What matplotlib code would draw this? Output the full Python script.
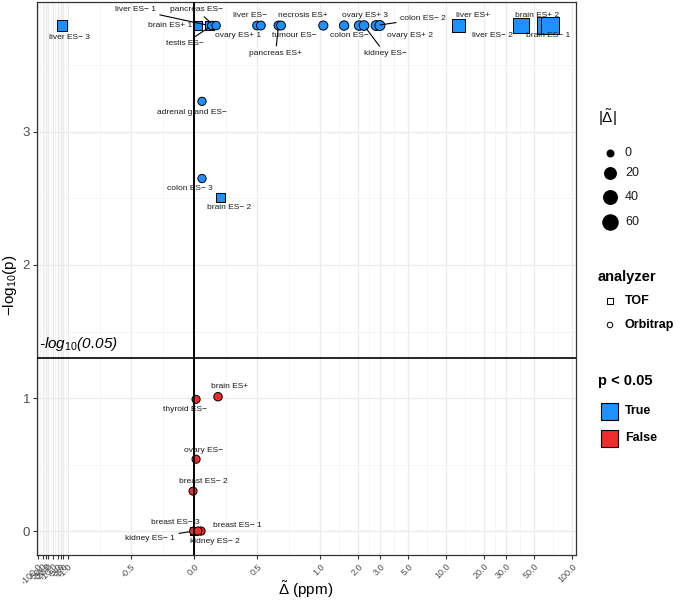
import numpy as np
import matplotlib
matplotlib.use("Agg")
import matplotlib.pyplot as plt

plt.rcParams['font.family'] = ['Liberation Sans', 'DejaVu Sans']
plt.rcParams['mathtext.fontset'] = 'custom'
plt.rcParams['mathtext.rm'] = 'Liberation Sans'
plt.rcParams['mathtext.it'] = 'Liberation Sans:italic'
plt.rcParams['mathtext.bf'] = 'Liberation Sans:bold'

# data
labels = ['liver ES\u2212 3', 'brain ES+ 1', 'liver ES\u2212 1', 'pancreas ES\u2212', 'testis ES\u2212',
          'ovary ES+ 1', 'liver ES\u2212', '', 'pancreas ES+', 'tumour ES\u2212', 'necrosis ES+',
          'colon ES\u2212', 'ovary ES+ 3', 'kidney ES\u2212', 'colon ES\u2212 2', 'ovary ES+ 2',
          'liver ES+', 'liver ES\u2212 2', 'brain ES\u2212 1', 'brain ES+ 2',
          'adrenal gland ES\u2212', 'colon ES\u2212 3', 'brain ES\u2212 2',
          'brain ES+', 'thyroid ES\u2212', 'ovary ES\u2212', 'breast ES\u2212 2', 'breast ES\u2212 3',
          'breast ES\u2212 1', 'kidney ES\u2212 1', 'kidney ES\u2212 2']
delta = [-2.5, 0.03, 0.12, 0.155, 0.14,
         0.175, 0.50, 0.53, 0.67, 0.69, 1.06,
         1.55, 2.04, 2.23, 2.78, 2.98,
         12.5, 39.4, 62.0, 67.0,
         0.063, 0.063, 0.21,
         0.19, 0.016, 0.016, -0.008, -0.004,
         0.055, -0.002, 0.03]
neg_log_p = [3.80] * 20 + [3.23, 2.65, 2.51,
                           1.01, 0.99, 0.54, 0.30, 0.0,
                           0.0, 0.0, 0.0]
analyzer = ['TOF', 'TOF', 'TOF', 'Orbitrap', 'Orbitrap',
            'Orbitrap', 'Orbitrap', 'Orbitrap', 'Orbitrap', 'Orbitrap', 'Orbitrap',
            'Orbitrap', 'Orbitrap', 'Orbitrap', 'Orbitrap', 'Orbitrap',
            'TOF', 'TOF', 'TOF', 'TOF',
            'Orbitrap', 'Orbitrap', 'TOF',
            'Orbitrap', 'Orbitrap', 'Orbitrap', 'Orbitrap', 'Orbitrap',
            'Orbitrap', 'TOF', 'Orbitrap']

# label layout (offsets in pixels, like ggrepel did it)
label_dx = [7, -28, -74, -17, -27, 22, -7, 0, -3, 13, -20, 5, 6, 21, 47, 30,
            15, -29, 2, -13, -10, -12, 9, 12, -11, 7, 10, -18, 36, -44, 17]
label_dy = [-12, 0, 16, 16, -18, -10, 10, 0, -28, -10, 10, -10, 10, -28, 7, -10,
            10, -10, -10, 10, -11, -10, -10, 10, -10, 9, 10, 9, 6, -7, -10]
label_line = [False, False, True, True, True, False, False, False, True, False, False,
              False, False, True, True, False, False, False, False, False,
              False, False, False, False, False, False, False, False, False, True, False]

x_ticks = [-100, -50, -30, -20, -10, -5, -3, -2, -1, -0.5, 0, 0.5, 1, 2, 3, 5, 10, 20, 30, 50, 100]
size_breaks = [0, 20, 40, 60]

threshold = -np.log10(0.05)
blue = '#1E90FF'
red = '#EE2C2C'
K_NEG = 15 / 126


def fwd(x):
    x = np.asarray(x, dtype=float)
    a = np.abs(x)
    l = np.log10(np.maximum(a, 1.0))
    return np.where(a <= 1, x, np.where(x > 0, 1 + l, -1 - K_NEG * l))


def inv(u):
    u = np.clip(np.asarray(u, dtype=float), -1.6, 6)
    pos = 10 ** (np.clip(u, 1, None) - 1)
    neg = -10 ** ((-1 - np.clip(u, None, -1)) / K_NEG)
    return np.where(u > 1, pos, np.where(u < -1, neg, u))


def marker_area(d, scale=1.0):
    diam_px = 8.0 + 9.0 * np.sqrt(np.abs(np.asarray(d, dtype=float)) / 67.0)
    return (diam_px * scale * 0.72) ** 2


W, H = 685, 603
fig = plt.figure(figsize=(W / 100, H / 100), dpi=100)
ax = fig.add_axes([37 / W, 1 - 555 / H, (576 - 37) / W, (555 - 2) / H])
ax.set_xscale('function', functions=(fwd, inv))

delta = np.array(delta)
neg_log_p = np.array(neg_log_p)
analyzer = np.array(analyzer)
sig = neg_log_p > threshold

for an, mk, sc in [('TOF', 's', 1.05), ('Orbitrap', 'o', 1.0)]:
    m = analyzer == an
    ax.scatter(delta[m], neg_log_p[m], s=marker_area(delta[m], sc), marker=mk,
               c=np.where(sig[m], blue, red), edgecolors='black', linewidths=0.7, zorder=3)

for i, lab in enumerate(labels):
    if not lab:
        continue
    arrow = dict(arrowstyle='-', color='black', lw=0.8, shrinkA=1, shrinkB=3) if label_line[i] else None
    ax.annotate(lab, (delta[i], neg_log_p[i]), xytext=(label_dx[i], label_dy[i]),
                textcoords='offset pixels', ha='center', va='center', fontsize=6,
                color='#1a1a1a', arrowprops=arrow, zorder=4)

ax.axvline(0, color='black', lw=1.4, zorder=5)
ax.axhline(threshold, color='black', lw=1.2, zorder=5)
ax.text(0.003, threshold + 0.04, r'-log$_{\mathit{10}}$(0.05)', transform=ax.get_yaxis_transform(),
        fontsize=11, fontstyle='italic', ha='left', va='bottom', zorder=5)

ax.set_xticks(x_ticks)
ax.set_xticklabels([f'{v:.1f}' for v in x_ticks], rotation=45, ha='right', va='top',
                   rotation_mode='anchor', fontsize=6.5, color='#4d4d4d')
u = fwd(x_ticks)
ax.set_xticks(inv((u[:-1] + u[1:]) / 2), minor=True)
ax.set_yticks([0, 1, 2, 3])
ax.set_yticklabels(['0', '1', '2', '3'], fontsize=9.5, color='#4d4d4d')
ax.set_yticks([0.5, 1.5, 2.5, 3.5], minor=True)
ax.set_xlim(float(inv(-1.246)), float(inv(3.03)))
ax.set_ylim(-0.18, 3.977)
ax.tick_params(which='major', length=3, color='#333333', width=0.8, pad=2)
ax.tick_params(which='minor', length=0)
ax.grid(which='major', color='#EBEBEB', lw=0.9)
ax.grid(which='minor', color='#F2F2F2', lw=0.5)
ax.set_axisbelow(True)
for sp in ax.spines.values():
    sp.set_color('#333333')
    sp.set_linewidth(0.9)

fig.text(306 / W, 1 - 590 / H, r'$\tilde{\Delta}$ (ppm)', ha='center', va='center', fontsize=11)
fig.text(10 / W, 1 - 285 / H, r'$\mathrm{-log}_{10}\mathrm{(p)}$', ha='center', va='center',
         rotation=90, fontsize=11)

# legends, drawn in pixel coordinates
lax = fig.add_axes([0, 0, 1, 1], facecolor='none')
lax.set_xlim(0, W)
lax.set_ylim(H, 0)
lax.axis('off')

lax.text(598, 118, r'$|\tilde{\Delta}|$', fontsize=11, va='center', ha='left')
for v, y in zip(size_breaks, [153, 173, 197, 222]):
    lax.scatter([610], [y], s=marker_area(v), c='black', linewidths=0)
    lax.text(625, y, str(v), fontsize=9, va='center', ha='left', color='#1a1a1a')

lax.text(598, 277, 'analyzer', fontsize=10.5, fontweight='bold', va='center', ha='left')
lax.scatter([610], [301], s=(5.5 * 0.72) ** 2, marker='s', facecolors='none', edgecolors='black', linewidths=0.7)
lax.scatter([610], [325], s=(5.5 * 0.72) ** 2, marker='o', facecolors='none', edgecolors='black', linewidths=0.7)
lax.text(625, 301, 'TOF', fontsize=9, fontweight='bold', va='center', ha='left')
lax.text(625, 325, 'Orbitrap', fontsize=9, fontweight='bold', va='center', ha='left')

lax.text(598, 381, 'p < 0.05', fontsize=10.5, fontweight='bold', va='center', ha='left')
lax.scatter([609], [411], s=(17 * 0.72) ** 2, marker='s', c=blue, edgecolors='black', linewidths=0.8)
lax.scatter([609], [438], s=(17 * 0.72) ** 2, marker='s', c=red, edgecolors='black', linewidths=0.8)
lax.text(625, 411, 'True', fontsize=9, fontweight='bold', va='center', ha='left')
lax.text(625, 438, 'False', fontsize=9, fontweight='bold', va='center', ha='left')

fig.savefig('out.png', dpi=100)
